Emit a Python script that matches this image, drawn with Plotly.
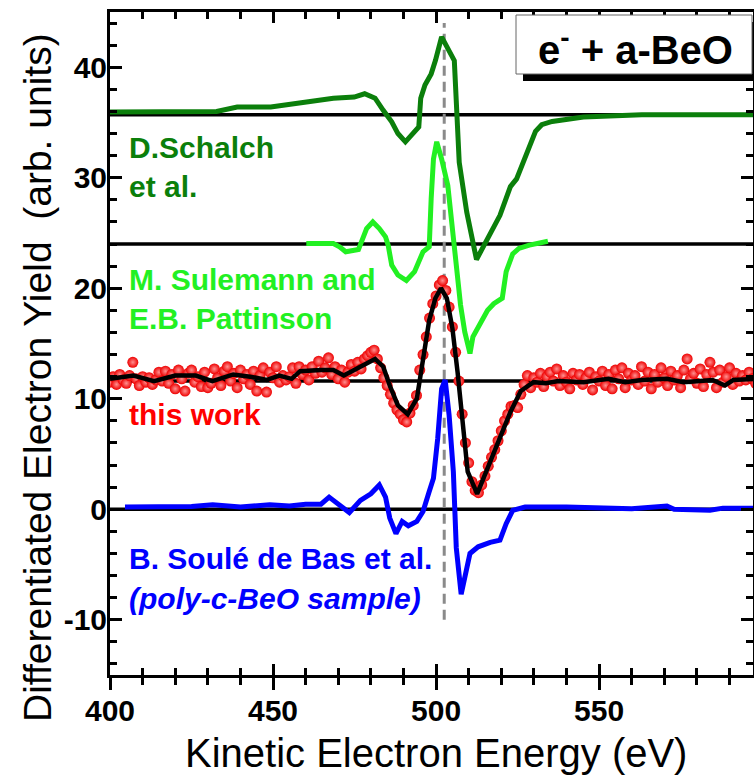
import plotly.graph_objects as go

# ---------------- data ----------------
# D. Schalch et al. (dark green, offset curve)
schalch_E = [400, 432.7, 439, 449.3, 468.5, 474.9, 478.1, 481.3, 483.8, 486.4, 488.3, 490.6, 494.7, 495.3,
             496.6, 498.5, 499.8, 501.7, 505.6, 506.2, 507.1, 509.4, 511.3, 512.4, 519.6, 522.8, 524.7, 527.3,
             530.5, 532.4, 535.6, 545.2, 563.1, 597.5]
schalch_y = [35.95, 36.0, 36.4, 36.4, 37.2, 37.3, 37.6, 37.2, 36.1, 35.06, 34.0, 33.25, 34.6, 37.2,
             38.4, 39.4, 40.6, 42.75, 40.6, 36.6, 31.4, 26.9, 23.9, 22.6, 26.6, 29.2, 29.9, 31.7,
             34.2, 34.8, 35.1, 35.5, 35.7, 35.7]

# M. Sulemann and E.B. Pattinson (light green)
sulemann_E = [460.2, 468.5, 470.4, 472.3, 476.2, 478.7, 480.6, 482.6, 484.5, 485.3, 486.4, 488.3, 490.9, 493.4,
              496.0, 497.9, 498.5, 499.2, 500.2, 501.7, 503.6, 504.9, 506.2, 507.5, 508.8, 510.4, 511.3, 513.2,
              515.8, 517.7, 520.3, 521.5, 523.5, 525.4, 528.6, 534.3]
sulemann_y = [24.05, 24.05, 23.75, 23.3, 23.5, 25.4, 26.0, 25.4, 24.65, 23.9, 22.1, 21.2, 20.7, 21.5,
              23.3, 23.75, 28.1, 31.7, 33.25, 31.7, 29.3, 25.7, 22.7, 18.5, 16.05, 14.1, 15.6, 16.7,
              18.0, 18.6, 19.1, 21.5, 23.1, 23.6, 23.9, 24.25]

# B. Soule de Bas et al. (blue)
soule_E = [404.6, 425, 431.5, 440, 449, 455, 460, 464.7, 467.2, 470.4, 473.4, 476.8, 480.0, 482.6, 484.5,
           485.8, 487.7, 489.6, 491.5, 494.1, 496.0, 497.9, 499.2, 500.5, 501.7, 502.8, 504.0, 505.3, 506.2,
           507.7, 508.9, 510.4, 512.9, 516.6, 519.6, 521.5, 523.5, 527.3, 540, 550, 560, 570.8, 573, 584,
           588, 597.5]
soule_y = [0.2, 0.25, 0.4, 0.2, 0.4, 0.3, 0.45, 0.46, 1.1, 0.36, -0.3, 0.8, 1.4, 2.2, 1.1,
           -0.8, -2.2, -1.1, -1.5, -1.1, -0.2, 1.6, 2.8, 6.4, 10.9, 11.7, 8.5, 3.4, -3.5,
           -7.7, -5.8, -4.0, -3.4, -3.0, -2.8, -1.3, -0.1, 0.2, 0.2, 0.15, 0.05, 0.3, 0.0, -0.08,
           0.1, 0.1]

# this work - smoothed (black)
smooth_E = [400, 407.2, 413.5, 420, 426.3, 431.4, 437.8, 443, 448.1, 451.9, 455.7, 458.3, 464.7, 468.5,
            471.7, 474.9, 478.7, 481.3, 483.8, 485.8, 488.3, 491.3, 494.1, 496.0, 497.9, 499.8, 501.5,
            503.3, 505.0, 506.6, 508.1, 509.7, 512.6, 515.8, 519.6, 522.8, 526.0, 529.9, 533.7, 537.5,
            545.2, 552.9, 558, 563.1, 570.8, 575.9, 581, 584.8, 588.6, 591.2, 597.5]
smooth_y = [11.8, 12.1, 11.6, 12.1, 12.1, 11.6, 12.2, 12.0, 11.7, 12.1, 11.8, 12.5, 12.6, 12.6,
            12.1, 12.6, 13.1, 13.6, 12.9, 11.2, 9.4, 8.6, 10.0, 13.6, 17.1, 19.1, 20.0,
            19.1, 16.4, 12.4, 7.6, 3.4, 1.4, 3.7, 6.4, 8.8, 10.7, 11.5, 11.4, 11.6,
            11.5, 11.8, 11.5, 11.7, 11.8, 11.5, 11.6, 11.7, 11.2, 11.7, 11.8]

# this work - measured points (red), one point per eV starting at 400 eV
points_start = 400
points_y = [
    11.5, 12.0, 11.3, 12.2, 11.7, 11.4, 12.1, 13.3, 11.8, 11.2,   # 400-409
    12.0, 11.5, 11.9, 11.3, 11.7, 12.4, 11.6, 12.5, 11.4, 12.2,   # 410-419
    10.9, 12.6, 11.8, 10.7, 12.3, 12.6, 11.5, 12.0, 11.1, 12.4,   # 420-429
    11.0, 11.4, 12.7, 11.9, 11.2, 12.5, 12.9, 11.6, 12.3, 11.0,   # 430-439
    12.6, 11.8, 12.2, 11.3, 12.5, 10.7, 12.1, 12.8, 10.6, 12.4,   # 440-449
    11.9, 12.9, 11.5, 12.1, 11.7, 12.0, 12.8, 11.4, 12.9, 12.2,   # 450-459
    12.6, 11.7, 12.9, 12.3, 13.4, 12.4, 12.8, 13.7, 12.2, 12.9,   # 460-469
    11.8, 12.6, 11.5, 12.4, 13.1, 12.5, 13.3, 12.7, 13.6, 13.9,   # 470-479
    14.2, 14.4, 13.6, 12.8, 11.9, 11.2, 10.4, 9.6, 9.0, 8.6,      # 480-489
    8.1, 7.9, 8.7, 9.4, 10.3, 12.6, 14.0, 15.6, 17.3, 18.6,       # 490-499
    19.3, 20.3, 20.7, 19.8, 18.3, 16.5, 14.2, 11.6, 8.6, 6.0,     # 500-509
    4.2, 2.5, 1.7, 1.5, 2.2, 3.0, 3.9, 4.7, 5.4, 6.2,             # 510-519
    7.1, 8.0, 8.6, 9.3, 9.4, 9.2, 10.4, 11.3, 12.1, 11.0,         # 520-529
    11.9, 11.5, 12.3, 11.1, 12.0, 12.4, 11.6, 12.7, 11.2, 12.1,   # 530-539
    11.5, 10.9, 12.3, 11.7, 12.2, 11.3, 11.9, 12.4, 10.8, 12.0,   # 540-549
    11.6, 12.5, 11.2, 12.2, 10.9, 12.6, 11.8, 12.8, 11.0, 12.3,   # 550-559
    11.7, 12.1, 11.3, 12.9, 11.6, 12.4, 10.9, 12.2, 11.5, 12.8,   # 560-569
    11.9, 11.2, 12.5, 11.7, 12.1, 11.0, 12.6, 13.6, 11.8, 12.3,   # 570-579
    11.4, 12.7, 11.1, 12.2, 13.3, 12.4, 11.0, 12.6, 11.5, 12.0,   # 580-589
    12.8, 11.3, 12.3, 11.6, 12.1, 11.7, 12.4, 11.8, 11.4,         # 590-598
]
points_E = [points_start + i for i in range(len(points_y))]

baselines = [35.7, 24.0, 11.6, 0.0]
ref_energy = 502.5
ref_span = [-10.0, 44.0]

x_range = [400, 597.2]
y_range = [-15, 45]
x_tick_vals = [400, 450, 500, 550]
y_tick_vals = [-10, 0, 10, 20, 30, 40]
y_tick_text = ["-10", "0", "10", "20", "30", "40"]

# ---------------- style ----------------
DKGREEN = "#0b7f0b"
LTGREEN = "#22f022"
RED = "#ff0000"
BLUE = "#0000ff"
FONT = "Liberation Sans"

W, H = 754, 781
L, R, T, B = 110, 1, 12, 106
PW, PH = W - L - R, H - T - B


def px(xp):
    return (xp - L) / PW


def py(yp):
    return (H - B - yp) / PH


fig = go.Figure()

# reference dashed line
fig.add_trace(go.Scatter(x=[ref_energy, ref_energy], y=ref_span, mode="lines",
                         line=dict(color="#8a8a8a", width=3, dash="10px,6px"),
                         hoverinfo="skip", showlegend=False))

fig.add_trace(go.Scatter(x=schalch_E, y=schalch_y, mode="lines",
                         line=dict(color=DKGREEN, width=5), showlegend=False))
fig.add_trace(go.Scatter(x=sulemann_E, y=sulemann_y, mode="lines",
                         line=dict(color=LTGREEN, width=5), showlegend=False))
fig.add_trace(go.Scatter(x=soule_E, y=soule_y, mode="lines",
                         line=dict(color=BLUE, width=5), showlegend=False))
fig.add_trace(go.Scatter(x=points_E, y=points_y, mode="markers",
                         marker=dict(size=11, color="#ee0000",
                                     gradient=dict(type="radial", color="#ff9090"),
                                     line=dict(width=0)),
                         showlegend=False))
fig.add_trace(go.Scatter(x=smooth_E, y=smooth_y, mode="lines",
                         line=dict(color="black", width=4.5), showlegend=False))

# dummy trace on overlay axis (for crossing ticks)
fig.add_trace(go.Scatter(x=[x_range[0]], y=[y_range[0]], xaxis="x2", mode="markers",
                         marker=dict(size=0.1, opacity=0), hoverinfo="skip", showlegend=False))

shapes = []
for b in baselines:
    shapes.append(dict(type="line", xref="paper", yref="y", x0=0, x1=1, y0=b, y1=b,
                       line=dict(color="black", width=3.5), layer="below"))
# label box with shadow
shapes.append(dict(type="rect", xref="paper", yref="paper", x0=px(523), x1=px(760),
                   y0=py(81), y1=py(22), fillcolor="black", line=dict(width=0)))
shapes.append(dict(type="rect", xref="paper", yref="paper", x0=px(516), x1=px(752),
                   y0=py(74), y1=py(15), fillcolor="white", line=dict(color="#666666", width=1)))

tickfont = dict(family=FONT, size=30, color="black", weight="bold")
lab = lambda c: dict(family=FONT, size=30, color=c, weight="bold")

annotations = [
    dict(text="e<sup>-</sup> + a-BeO", x=px(635), y=py(47), xanchor="center",
         font=dict(family=FONT, size=40, color="black", weight="bold")),
    dict(text="D.Schalch", x=px(127), y=py(147), font=lab(DKGREEN)),
    dict(text="et al.", x=px(127), y=py(187), font=lab(DKGREEN)),
    dict(text="M. Sulemann and", x=px(127), y=py(279), font=lab(LTGREEN)),
    dict(text="E.B. Pattinson", x=px(127), y=py(318), font=lab(LTGREEN)),
    dict(text="this work", x=px(127), y=py(414), font=lab(RED)),
    dict(text="B. Soulé de Bas et al.", x=px(127), y=py(558), font=lab(BLUE)),
    dict(text="<i>(poly-c-BeO sample)</i>", x=px(127), y=py(598), font=lab(BLUE)),
    dict(text="Kinetic Electron Energy (eV)", x=px(436), y=py(753), xanchor="center",
         font=dict(family=FONT, size=40, color="black")),
    dict(text="Differentiated Electron Yield  (arb. units)", x=px(37), y=py(378), textangle=-90,
         font=dict(family=FONT, size=39, color="black"), xanchor="center"),
]
for a in annotations:
    a.setdefault("xref", "paper")
    a.setdefault("yref", "paper")
    a.setdefault("showarrow", False)
    a.setdefault("xanchor", "left")
    a.setdefault("yanchor", "middle")

fig.update_layout(
    template="none",
    width=W, height=H,
    margin=dict(l=L, r=R, t=T, b=B, pad=0, autoexpand=False),
    paper_bgcolor="white", plot_bgcolor="white",
    showlegend=False,
    shapes=shapes,
    annotations=annotations,
    xaxis=dict(range=x_range, tickvals=x_tick_vals, ticks="outside", ticklen=12, tickwidth=3,
               tickcolor="black", showline=True, linewidth=3, linecolor="black", mirror=True,
               showgrid=False, zeroline=False, tickfont=tickfont, automargin=False,
               ticklabelstandoff=-5,
               minor=dict(dtick=10, ticks="outside", ticklen=7, tickwidth=3, tickcolor="black",
                          showgrid=False)),
    xaxis2=dict(range=x_range, overlaying="x", anchor="y", side="bottom", tickvals=x_tick_vals,
                ticks="inside", ticklen=11, tickwidth=3, tickcolor="black", showticklabels=False,
                showline=False, mirror="ticks", showgrid=False, zeroline=False, automargin=False,
                minor=dict(dtick=10, ticks="inside", ticklen=7, tickwidth=3, tickcolor="black",
                           showgrid=False)),
    yaxis=dict(range=y_range, tickvals=y_tick_vals, ticktext=y_tick_text, ticks="inside",
               ticklen=12, tickwidth=3, tickcolor="black", showline=True, linewidth=3,
               linecolor="black", mirror="ticks", showgrid=False, zeroline=False, tickfont=tickfont,
               automargin=False, ticklabelstandoff=-6,
               minor=dict(dtick=2, ticks="inside", ticklen=7, tickwidth=3, tickcolor="black",
                          showgrid=False)),
)

fig.write_html("out.html", config={"displayModeBar": False},
               post_script="document.body.style.margin='0';document.body.style.overflow='hidden';")
